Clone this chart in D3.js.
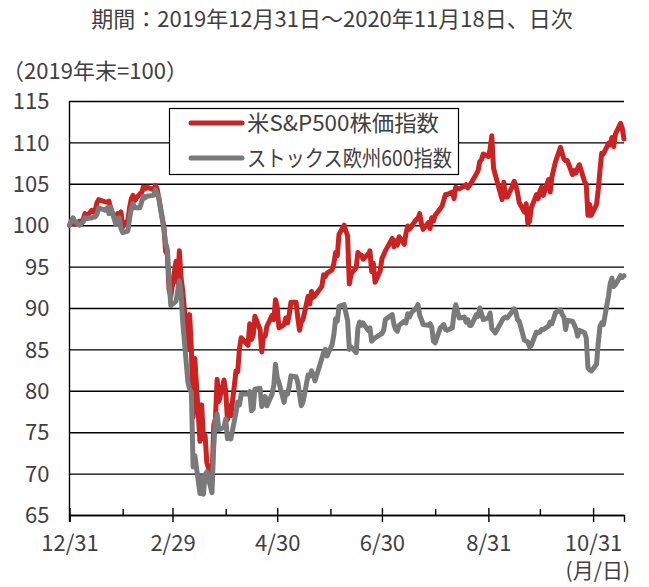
<!DOCTYPE html>
<html><head><meta charset="utf-8">
<script src="https://cdn.jsdelivr.net/npm/d3@7"></script>
<style>
body{margin:0;background:#fff}
svg text{font-family:"Noto Sans CJK JP","Noto Sans",sans-serif;fill:#404040}
</style>
</head><body>
<svg id="c" width="649" height="587"></svg>
<script>
// trading days (2019-12-31 then 2020)
const dates = [
"12-31",
"01-02","01-03","01-06","01-07","01-08","01-09","01-10","01-13","01-14","01-15","01-16","01-17","01-21","01-22","01-23","01-24","01-27","01-28","01-29","01-30","01-31",
"02-03","02-04","02-05","02-06","02-07","02-10","02-11","02-12","02-13","02-14","02-18","02-19","02-20","02-21","02-24","02-25","02-26","02-27","02-28",
"03-02","03-03","03-04","03-05","03-06","03-09","03-10","03-11","03-12","03-13","03-16","03-17","03-18","03-19","03-20","03-23","03-24","03-25","03-26","03-27","03-30","03-31",
"04-01","04-02","04-03","04-06","04-07","04-08","04-09","04-13","04-14","04-15","04-16","04-17","04-20","04-21","04-22","04-23","04-24","04-27","04-28","04-29","04-30",
"05-01","05-04","05-05","05-06","05-07","05-08","05-11","05-12","05-13","05-14","05-15","05-18","05-19","05-20","05-21","05-22","05-26","05-27","05-28","05-29",
"06-01","06-02","06-03","06-04","06-05","06-08","06-09","06-10","06-11","06-12","06-15","06-16","06-17","06-18","06-19","06-22","06-23","06-24","06-25","06-26","06-29","06-30",
"07-01","07-02","07-06","07-07","07-08","07-09","07-10","07-13","07-14","07-15","07-16","07-17","07-20","07-21","07-22","07-23","07-24","07-27","07-28","07-29","07-30","07-31",
"08-03","08-04","08-05","08-06","08-07","08-10","08-11","08-12","08-13","08-14","08-17","08-18","08-19","08-20","08-21","08-24","08-25","08-26","08-27","08-28","08-31",
"09-01","09-02","09-03","09-04","09-08","09-09","09-10","09-11","09-14","09-15","09-16","09-17","09-18","09-21","09-22","09-23","09-24","09-25","09-28","09-29","09-30",
"10-01","10-02","10-05","10-06","10-07","10-08","10-09","10-12","10-13","10-14","10-15","10-16","10-19","10-20","10-21","10-22","10-23","10-26","10-27","10-28","10-29","10-30",
"11-02","11-03","11-04","11-05","11-06","11-09","11-10","11-11","11-12","11-13","11-16","11-17","11-18"
];
// 米S&P500株価指数 (2019年末=100)
const spValues = [
100.0,
100.8,100.1,100.5,100.2,100.7,101.4,101.1,101.8,101.6,101.8,102.7,103.1,102.8,102.8,102.9,102.0,100.4,101.4,101.3,101.6,99.8,
100.6,102.1,103.2,103.6,103.0,103.8,103.9,104.6,104.4,104.6,104.3,104.8,104.4,103.3,99.8,96.8,96.5,92.2,91.4,
95.6,93.0,96.9,93.6,92.0,85.0,89.2,84.9,76.8,83.9,73.9,78.3,74.2,74.6,71.3,69.3,75.8,76.6,81.4,78.7,81.3,80.0,
76.5,78.2,77.0,82.4,82.3,85.1,86.4,85.5,88.1,86.2,86.7,89.0,87.4,84.7,86.6,86.6,87.8,89.1,88.6,91.0,90.1,
87.6,88.0,88.8,88.2,89.2,90.7,90.7,88.8,87.3,88.3,88.6,91.4,90.5,92.0,91.3,91.5,92.6,94.0,93.8,94.2,
94.6,95.4,96.7,96.3,98.9,100.0,99.3,98.7,92.9,94.1,94.9,96.7,96.4,96.4,95.9,96.5,96.9,94.4,95.4,93.1,94.5,96.0,
96.4,96.9,98.4,97.4,98.1,97.6,98.6,97.7,99.0,99.9,99.5,99.8,100.7,100.8,101.4,100.2,99.5,100.3,99.6,100.9,100.5,101.2,
102.0,102.3,103.0,103.7,103.7,104.0,103.2,104.6,104.4,104.4,104.7,104.9,104.5,104.8,105.1,106.2,106.6,107.7,107.9,108.6,108.3,
109.2,110.8,106.9,106.1,103.1,105.2,103.4,103.4,104.7,105.3,104.8,103.9,102.7,101.6,102.6,100.2,100.5,102.1,103.7,103.2,104.1,
104.6,103.6,105.5,104.0,105.8,106.7,107.6,109.4,108.7,108.0,107.8,107.8,106.1,106.6,106.3,106.9,107.3,105.3,104.9,101.2,102.5,101.2,
102.5,104.3,106.6,108.7,108.6,109.9,109.7,110.6,109.5,111.0,112.3,111.7,110.4
];
// ストックス欧州600指数 (2019年末=100)
const stoxxValues = [
100.0,
100.9,100.5,100.0,100.2,100.4,100.9,100.8,100.9,101.0,101.0,101.3,102.1,101.8,102.1,101.4,102.2,100.1,100.8,100.9,99.6,99.1,
99.3,100.8,102.0,102.6,102.1,102.1,102.8,103.5,103.3,103.5,103.6,104.3,103.8,103.3,99.5,97.8,97.1,93.4,90.3,
90.8,92.0,93.3,91.7,88.2,81.0,80.2,79.8,70.8,72.2,67.6,69.6,67.5,69.8,70.2,67.7,73.2,76.5,77.2,75.3,75.6,76.6,
74.2,74.5,74.2,77.4,78.6,78.3,79.6,79.6,79.9,77.6,77.8,80.2,80.3,78.1,78.9,79.3,78.2,79.6,80.6,83.2,81.6,
81.0,78.6,79.8,79.6,80.5,81.8,81.7,81.0,79.6,78.2,78.6,81.9,81.8,82.4,81.9,81.2,83.9,84.6,85.0,84.2,
85.6,86.8,88.7,88.4,90.2,90.4,89.4,88.5,85.0,85.3,84.6,87.6,88.3,87.9,88.2,87.3,87.6,86.0,86.2,86.4,86.8,86.9,
87.3,88.6,89.2,88.0,87.4,87.2,87.9,88.4,88.2,89.3,88.9,89.4,90.0,90.4,89.1,88.6,88.0,87.9,88.1,87.7,86.0,85.8,
87.6,87.8,88.0,87.4,87.3,87.6,89.4,90.4,89.6,88.8,88.9,88.3,88.6,87.9,87.9,89.2,89.0,90.0,89.3,88.6,88.8,
89.4,87.5,87.3,87.0,88.5,88.8,88.9,88.8,89.6,89.9,89.5,88.6,88.4,86.1,86.0,85.9,85.3,85.5,87.1,87.0,87.1,
87.4,87.4,87.8,88.3,88.1,88.7,89.4,89.8,89.2,88.9,87.4,88.5,88.4,88.0,87.5,86.6,87.3,87.0,86.4,82.8,82.5,82.4,
83.2,85.8,87.8,88.2,88.0,91.5,93.0,93.6,92.6,92.8,93.9,93.7,93.9
];
const seriesNames = ["米S&P500株価指数", "ストックス欧州600指数"];
const seriesColors = ["#cc2222", "#7a7a7a"];
const yTicks = [65,70,75,80,85,90,95,100,105,110,115];
const majorTicks = ["12-31","02-29","04-30","06-30","08-31","10-31"];
const minorTicks = ["01-31","03-31","05-31","07-31","09-30"];
const titleText = "期間：2019年12月31日～2020年11月18日、日次";
const unitText = "（2019年末=100）";
const xUnitText = "(月/日)";

const parseTick = s => s === "12-31" ? new Date(2019,11,31) : new Date(2020, +s.slice(0,2)-1, +s.slice(3));
const parse = (s,i) => i === 0 ? new Date(2019,11,31) : new Date(2020, +s.slice(0,2)-1, +s.slice(3));

const svg = d3.select("#c");
const L = 69.5, R = 624, T = 101, B = 515;
const x = d3.scaleTime().domain([new Date(2019,11,31), new Date(2020,10,18)]).range([L, R]);
const y = d3.scaleLinear().domain([65,115]).range([B, T]);

// title & units
svg.append("text").attr("x",332).attr("y",27).attr("text-anchor","middle").style("font-size","22px").text(titleText);
svg.append("text").attr("x",2).attr("y",79).style("font-size","22px")
  .attr("textLength",186).attr("lengthAdjust","spacing").text(unitText);
svg.append("text").attr("x",630).attr("y",578).attr("text-anchor","end").style("font-size","21px").text(xUnitText);

// y axis with gridlines
const ya = svg.append("g").attr("transform",`translate(${L},0)`)
  .call(d3.axisLeft(y).tickValues(yTicks).tickSize(-(R-L)).tickPadding(20).tickFormat(d3.format("d")));
ya.select(".domain").remove();
ya.selectAll(".tick line").attr("stroke","#000").attr("stroke-width",1.4);
ya.selectAll(".tick text").style("font-size","22px").attr("fill","#404040").attr("dy","0.35em");

// vertical axis line
svg.append("line").attr("x1",L).attr("x2",L).attr("y1",T).attr("y2",B+7).attr("stroke","#000").attr("stroke-width",1.4);

// x axis
const fmt = d => (d.getMonth()+1) + "/" + d.getDate();
const xa = svg.append("g").attr("transform",`translate(0,${B})`)
  .call(d3.axisBottom(x).tickValues(majorTicks.map(parseTick)).tickSize(7).tickPadding(13).tickFormat(fmt));
xa.select(".domain").attr("stroke","#000").attr("stroke-width",1.4);
xa.selectAll(".tick line").attr("stroke","#000").attr("stroke-width",1.4).attr("y1",-7);
xa.selectAll(".tick text").style("font-size","22px").attr("fill","#404040");
const xm = svg.append("g").attr("transform",`translate(0,${B})`)
  .call(d3.axisTop(x).tickValues(minorTicks.map(parseTick)).tickSize(6).tickFormat(""));
xm.select(".domain").remove();
xm.selectAll(".tick line").attr("stroke","#000").attr("stroke-width",1.4);

// lines
const parsed = dates.map(parse);
const allSeries = [spValues, stoxxValues];
const line = d3.line().x(d => x(d[0])).y(d => y(d[1]));
allSeries.forEach((vals,i) => {
  svg.append("path").datum(d3.zip(parsed, vals))
    .attr("fill","none").attr("stroke",seriesColors[i]).attr("stroke-width",5)
    .attr("stroke-linejoin","round").attr("stroke-linecap","round").attr("d",line);
});

// legend
const legendWidths = [192, 205];
const lg = svg.append("g");
lg.append("rect").attr("x",169.5).attr("y",108.5).attr("width",289).attr("height",66)
  .attr("fill","#fff").attr("stroke","#000").attr("stroke-width",1.2);
seriesNames.forEach((n,i) => {
  const cy = 123 + i*35;
  lg.append("line").attr("x1",191).attr("x2",242).attr("y1",cy).attr("y2",cy)
    .attr("stroke",seriesColors[i]).attr("stroke-width",5).attr("stroke-linecap","round");
  lg.append("text").attr("x",247).attr("y",cy).attr("dy","0.36em").style("font-size","22px")
    .attr("textLength",legendWidths[i]).attr("lengthAdjust","spacingAndGlyphs").text(n);
});
</script>
</body></html>
